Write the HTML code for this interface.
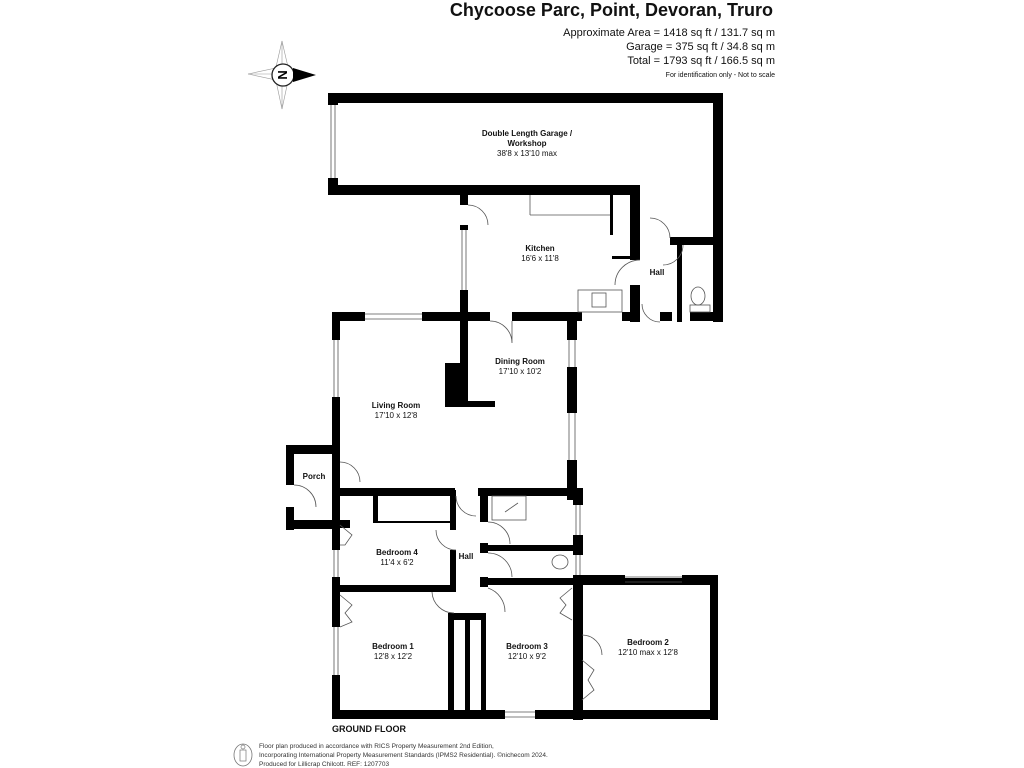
<!DOCTYPE html>
<html><head><meta charset="utf-8"><style>
html,body{margin:0;padding:0;background:#fff;}
svg{display:block;font-family:"Liberation Sans",Arial,sans-serif;}
</style></head><body>
<svg width="1024" height="768" viewBox="0 0 1024 768" xmlns="http://www.w3.org/2000/svg">
<rect width="1024" height="768" fill="#fff"/>
<!-- header -->
<text x="773" y="16" text-anchor="end" font-size="18" font-weight="bold" fill="#111">Chycoose Parc, Point, Devoran, Truro</text>
<text x="775" y="36" text-anchor="end" font-size="11" fill="#111">Approximate Area = 1418 sq ft / 131.7 sq m</text>
<text x="775" y="50" text-anchor="end" font-size="11" fill="#111">Garage = 375 sq ft / 34.8 sq m</text>
<text x="775" y="64" text-anchor="end" font-size="11" fill="#111">Total = 1793 sq ft / 166.5 sq m</text>
<text x="775" y="77" text-anchor="end" font-size="7" fill="#111">For identification only - Not to scale</text>
<!-- compass -->
<g stroke="#999" stroke-width="0.6" fill="none">
<polygon points="282,41 288,67 282,74 276,67"/>
<polygon points="282,109 288,81 282,74 276,81"/>
<polygon points="248,74 276,68 282,74 276,80"/>
<line x1="282" y1="41" x2="282" y2="109"/><line x1="248" y1="74" x2="282" y2="74"/>
</g>
<circle cx="283" cy="75" r="11" fill="#fff" stroke="#222" stroke-width="1.3"/>
<polygon points="293,68 316,75 293,82" fill="#000"/>
<text x="283" y="80" text-anchor="middle" font-size="13" font-weight="bold" transform="rotate(90 283 75)">N</text>
<g fill="#000">
<!-- garage -->
<rect x="328" y="93" width="395" height="10"/>
<rect x="713" y="93" width="10" height="229"/>
<rect x="328" y="93" width="10" height="12"/>
<rect x="328" y="178" width="10" height="17"/>
<rect x="328" y="185" width="312" height="10"/>
<rect x="630" y="185" width="10" height="75"/>
<rect x="610" y="195" width="3" height="40"/>
<rect x="612" y="256" width="20" height="3"/>
<rect x="630" y="285" width="10" height="37"/>
<rect x="670" y="237" width="45" height="8"/>
<rect x="677" y="245" width="5" height="77"/>
<!-- kitchen left -->
<rect x="460" y="195" width="8" height="10"/>
<rect x="460" y="225" width="8" height="5"/>
<rect x="460" y="290" width="8" height="32"/>
<!-- bottom of kitchen/top of living -->
<rect x="332" y="312" width="33" height="9"/>
<rect x="422" y="312" width="68" height="9"/>
<rect x="512" y="312" width="70" height="9"/>
<rect x="622" y="312" width="18" height="9"/>
<rect x="660" y="312" width="12" height="9"/>
<rect x="690" y="312" width="33" height="9"/>
<rect x="460" y="312" width="8" height="95"/>
<!-- chimney -->
<rect x="445" y="363" width="23" height="42"/>
<rect x="445" y="401" width="50" height="6"/>
<!-- living left -->
<rect x="332" y="312" width="8" height="28"/>
<rect x="332" y="397" width="8" height="85"/>
<!-- porch -->
<rect x="286" y="445" width="54" height="9"/>
<rect x="286" y="445" width="8" height="40"/>
<rect x="286" y="507" width="8" height="23"/>
<rect x="286" y="520" width="54" height="9"/>
<rect x="332" y="482" width="8" height="68"/>
<rect x="332" y="577" width="8" height="50"/>
<rect x="332" y="675" width="8" height="43"/>
<!-- dining right -->
<rect x="567" y="312" width="10" height="28"/>
<rect x="567" y="367" width="10" height="46"/>
<rect x="567" y="460" width="10" height="40"/>
<!-- middle wall -->
<rect x="332" y="488" width="123" height="8"/>
<rect x="478" y="488" width="105" height="8"/>
<rect x="573" y="488" width="10" height="17"/>
<rect x="573" y="535" width="10" height="20"/>
<rect x="573" y="575" width="10" height="145"/>
<!-- bed4 -->
<rect x="373" y="490" width="5" height="33"/>
<rect x="378" y="521" width="72" height="2"/>
<rect x="450" y="490" width="6" height="40"/>
<rect x="450" y="550" width="6" height="42"/>
<rect x="332" y="585" width="124" height="7"/>
<rect x="340" y="520" width="10" height="8"/>
<!-- hall right -->
<rect x="480" y="490" width="8" height="32"/>
<rect x="480" y="543" width="8" height="10"/>
<rect x="480" y="545" width="95" height="6"/>
<rect x="480" y="577" width="8" height="10"/>
<rect x="480" y="578" width="238" height="7"/>
<!-- hall bottom / sliding -->
<rect x="448" y="613" width="38" height="7"/>
<rect x="448" y="613" width="6" height="105"/>
<rect x="465" y="613" width="5" height="105"/>
<rect x="481" y="613" width="5" height="105"/>
<!-- bed2 -->
<rect x="573" y="575" width="52" height="10"/>
<rect x="682" y="575" width="36" height="10"/>
<rect x="710" y="575" width="8" height="145"/>
<rect x="573" y="575" width="9" height="60"/>
<rect x="573" y="655" width="9" height="65"/>
<!-- bottom -->
<rect x="332" y="710" width="173" height="9"/>
<rect x="535" y="710" width="183" height="9"/>
</g>
<!-- fixtures lines -->
<g stroke="#555" stroke-width="0.8" fill="none">
<line x1="331" y1="105" x2="331" y2="178"/><line x1="335" y1="105" x2="335" y2="178"/>
<line x1="462" y1="230" x2="462" y2="290"/><line x1="466" y1="230" x2="466" y2="290"/>
<line x1="334" y1="340" x2="334" y2="397"/><line x1="338" y1="340" x2="338" y2="397"/>
<line x1="365" y1="314" x2="422" y2="314"/><line x1="365" y1="319" x2="422" y2="319"/>
<line x1="569" y1="340" x2="569" y2="367"/><line x1="569" y1="413" x2="569" y2="460"/>
<line x1="575" y1="340" x2="575" y2="367"/><line x1="575" y1="413" x2="575" y2="460"/>
<line x1="576" y1="505" x2="576" y2="535"/><line x1="576" y1="555" x2="576" y2="575"/>
<line x1="580" y1="505" x2="580" y2="535"/><line x1="580" y1="555" x2="580" y2="575"/>
<line x1="334" y1="550" x2="334" y2="577"/><line x1="334" y1="627" x2="334" y2="675"/>
<line x1="338" y1="550" x2="338" y2="577"/><line x1="338" y1="627" x2="338" y2="675"/>
<line x1="625" y1="577" x2="682" y2="577"/><line x1="625" y1="582" x2="682" y2="582"/>
<line x1="505" y1="712" x2="535" y2="712"/><line x1="505" y1="717" x2="535" y2="717"/>
<rect x="578" y="290" width="44" height="22"/>
<rect x="592" y="293" width="14" height="14"/>
<rect x="690" y="305" width="20" height="7"/>
<ellipse cx="698" cy="296" rx="7" ry="9"/>
<rect x="492" y="496" width="34" height="24"/>
<line x1="505" y1="512" x2="518" y2="503"/>
<ellipse cx="560" cy="562" rx="8" ry="7"/>
<line x1="530" y1="195" x2="530" y2="215"/><line x1="530" y1="215" x2="610" y2="215"/>
<!-- door arcs -->
<path d="M468 205 A20 20 0 0 1 488 225"/>
<path d="M490 321 A22 22 0 0 1 512 343 M512 321 L512 343"/>
<path d="M640 260 A25 25 0 0 0 615 285"/>
<path d="M660 322 A18 18 0 0 1 642 304"/>
<path d="M650 218 A20 20 0 0 1 670 238"/>
<path d="M683 245 A20 20 0 0 1 663 265"/>
<path d="M340 462 A20 20 0 0 1 360 482"/>
<path d="M294 485 A22 22 0 0 1 316 507"/>
<path d="M456 496 A20 20 0 0 0 476 516"/>
<path d="M456 550 A20 20 0 0 1 436 530"/>
<path d="M488 522 A22 22 0 0 1 510 544"/>
<path d="M488 553 A24 24 0 0 1 512 577"/>
<path d="M488 588 A25 25 0 0 1 505 612"/>
<path d="M454 613 A22 22 0 0 1 432 592"/>
<path d="M582 635 A20 20 0 0 1 602 655"/>
<path d="M340 595 L352 605 L345 613 L352 622 L340 627"/>
<path d="M340 525 L352 535 L345 545 L340 545"/>
<path d="M572 588 L560 598 L566 605 L560 613 L572 620"/>
<path d="M582 660 L594 670 L588 680 L594 690 L582 700"/>
</g>
<!-- labels -->
<g font-size="8" fill="#111" text-anchor="middle">
<text x="527" y="136" font-weight="bold">Double Length Garage /</text>
<text x="527" y="146" font-weight="bold">Workshop</text>
<text x="527" y="156">38'8 x 13'10 max</text>
<text x="540" y="251" font-weight="bold">Kitchen</text>
<text x="540" y="261">16'6 x 11'8</text>
<text x="657" y="275" font-weight="bold">Hall</text>
<text x="520" y="364" font-weight="bold">Dining Room</text>
<text x="520" y="374">17'10 x 10'2</text>
<text x="396" y="408" font-weight="bold">Living Room</text>
<text x="396" y="418">17'10 x 12'8</text>
<text x="314" y="479" font-weight="bold">Porch</text>
<text x="397" y="555" font-weight="bold">Bedroom 4</text>
<text x="397" y="565">11'4 x 6'2</text>
<text x="466" y="559" font-weight="bold">Hall</text>
<text x="393" y="649" font-weight="bold">Bedroom 1</text>
<text x="393" y="659">12'8 x 12'2</text>
<text x="527" y="649" font-weight="bold">Bedroom 3</text>
<text x="527" y="659">12'10 x 9'2</text>
<text x="648" y="645" font-weight="bold">Bedroom 2</text>
<text x="648" y="655">12'10 max x 12'8</text>
</g>
<text x="332" y="732" font-size="9" font-weight="bold" fill="#111">GROUND FLOOR</text>
<g font-size="6.5" fill="#333">
<text x="259" y="748">Floor plan produced in accordance with RICS Property Measurement 2nd Edition,</text>
<text x="259" y="757">Incorporating International Property Measurement Standards (IPMS2 Residential).   ©nichecom 2024.</text>
<text x="259" y="766">Produced for Lillicrap Chilcott.   REF: 1207703</text>
</g>
<ellipse cx="243" cy="755" rx="9" ry="11" fill="none" stroke="#777" stroke-width="0.8"/>
<rect x="240" y="750" width="6" height="11" fill="none" stroke="#777" stroke-width="0.7"/>
<circle cx="243" cy="747" r="2" fill="none" stroke="#777" stroke-width="0.7"/>
</svg>
</body></html>
